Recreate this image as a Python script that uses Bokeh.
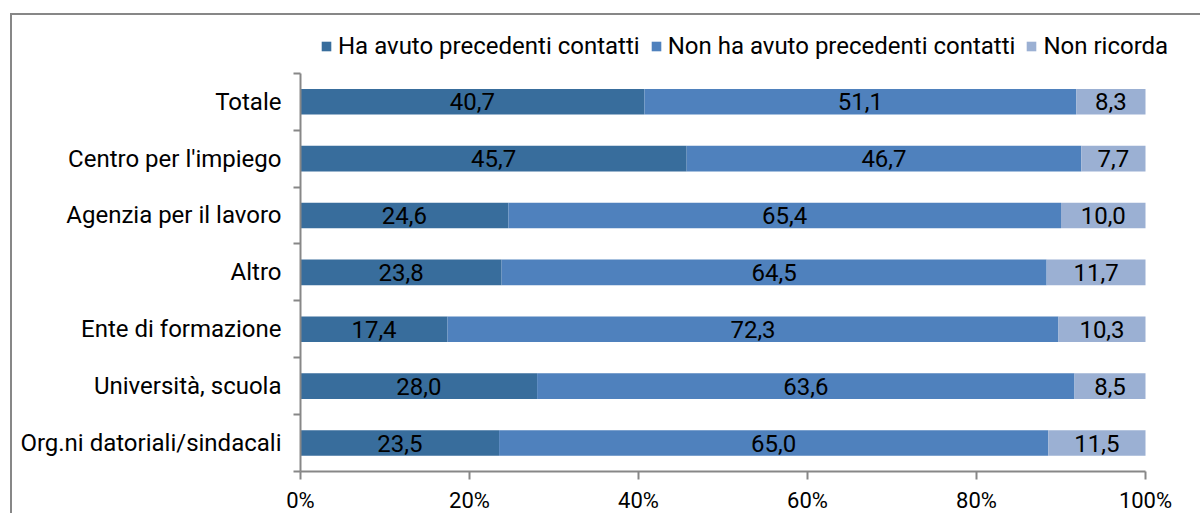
from bokeh.plotting import figure
from bokeh.models import (ColumnDataSource, Range1d, FixedTicker, PrintfTickFormatter,
                          Legend, LegendItem)
from bokeh.core.properties import value
from bokeh.embed import file_html
from bokeh.resources import INLINE

categories = ["Totale", "Centro per l'impiego", "Agenzia per il lavoro", "Altro",
              "Ente di formazione", "Università, scuola", "Org.ni datoriali/sindacali"]
series_names = ["Ha avuto precedenti contatti", "Non ha avuto precedenti contatti", "Non ricorda"]
ha_avuto = [40.7, 45.7, 24.6, 23.8, 17.4, 28.0, 23.5]
non_ha_avuto = [51.1, 46.7, 65.4, 64.5, 72.3, 63.6, 65.0]
non_ricorda = [8.3, 7.7, 10.0, 11.7, 10.3, 8.5, 11.5]
x_ticks = [0, 20, 40, 60, 80, 100]
colors = ["#386D9C", "#4F81BD", "#9BB0D3"]

FONT = "Roboto"
TEXT = "#000000"
GRAY = "#878787"
n = len(categories)
ypos = [n - 1 - i for i in range(n)]

# frame spans 300..1190 x 20..473; the 0-100% scale uses 845px and the
# categories the bottom 400px, the extra room above/right holds the legend
W, H = 1200, 515
LEFT, RIGHT, TOP, BOTTOM = 300, 10, 20, 42
scale_px = 845
cat_px = 400
x_extra = 100 * ((W - LEFT - RIGHT) - scale_px) / scale_px
y_extra = n * ((H - TOP - BOTTOM) - cat_px) / cat_px

p = figure(width=W, height=H, x_range=Range1d(0, 100 + x_extra),
           y_range=Range1d(-0.5, n - 0.5 + y_extra),
           output_backend="svg", toolbar_location=None,
           min_border_left=LEFT, min_border_right=RIGHT, min_border_top=TOP,
           min_border_bottom=BOTTOM)
p.outline_line_color = None
p.xgrid.visible = False
p.ygrid.visible = False
p.background_fill_color = "white"
p.border_fill_color = None
# outer chart border (left and top edges visible in the reference)
p.styles = {
    "background-color": "white",
    "background-image": f"linear-gradient({GRAY}, {GRAY}), linear-gradient({GRAY}, {GRAY})",
    "background-position": "10px 13px, 10px 13px",
    "background-size": "2px 100%, 100% 2px",
    "background-repeat": "no-repeat",
}

series = [ha_avuto, non_ha_avuto, non_ricorda]
starts = [0.0] * n
renderers = []
for name, vals, col in zip(series_names, series, colors):
    lefts = list(starts)
    rights = [min(a + b, 100.0) for a, b in zip(lefts, vals)]
    mids = [(a + b) / 2 for a, b in zip(lefts, rights)]
    src = ColumnDataSource(dict(y=ypos, left=lefts, right=rights, mid=mids,
                                lab=[f"{v:.1f}".replace(".", ",") for v in vals]))
    r = p.hbar(y="y", left="left", right="right", height=0.45, source=src,
               fill_color=col, line_color=None)
    renderers.append(r)
    p.text(x="mid", y="y", text="lab", source=src, text_align="center",
           text_baseline="middle", text_font=value(FONT), text_font_size="24px",
           text_color=TEXT)
    starts = rights

# x axis
xa = p.xaxis[0]
xa.bounds = (0, 100)
xa.ticker = FixedTicker(ticks=x_ticks, minor_ticks=[])
xa.formatter = PrintfTickFormatter(format="%d%%")
xa.axis_line_color = GRAY
xa.axis_line_width = 2
xa.major_tick_line_color = GRAY
xa.major_tick_line_width = 2
xa.major_tick_out = 8
xa.major_tick_in = 0
xa.minor_tick_line_color = None
xa.major_label_text_font = FONT
xa.major_label_text_font_size = "22px"
xa.major_label_text_color = TEXT
xa.major_label_standoff = 8

# y axis
ya = p.yaxis[0]
ya.bounds = (-0.5, n - 0.5)
ya.ticker = FixedTicker(ticks=ypos, minor_ticks=[i - 0.5 for i in range(n + 1)])
ya.major_label_overrides = {y: c for y, c in zip(ypos, categories)}
ya.axis_line_color = GRAY
ya.axis_line_width = 2
ya.major_tick_line_color = None
ya.major_tick_out = 0
ya.major_tick_in = 0
ya.minor_tick_line_color = GRAY
ya.minor_tick_line_width = 2
ya.minor_tick_out = 7
ya.minor_tick_in = 0
ya.major_label_text_font = FONT
ya.major_label_text_font_size = "24px"
ya.major_label_text_color = TEXT
ya.major_label_standoff = 12

legend = Legend(items=[LegendItem(label=s, renderers=[r]) for s, r in zip(series_names, renderers)],
                location=(20, 411), orientation="horizontal",
                glyph_width=12, glyph_height=12, label_standoff=6, spacing=10,
                padding=0, margin=0, border_line_color=None, background_fill_alpha=0,
                label_text_font=FONT, label_text_font_size="24px", label_text_color=TEXT)
p.add_layout(legend)

open("out.html", "w").write(file_html(p, INLINE))
